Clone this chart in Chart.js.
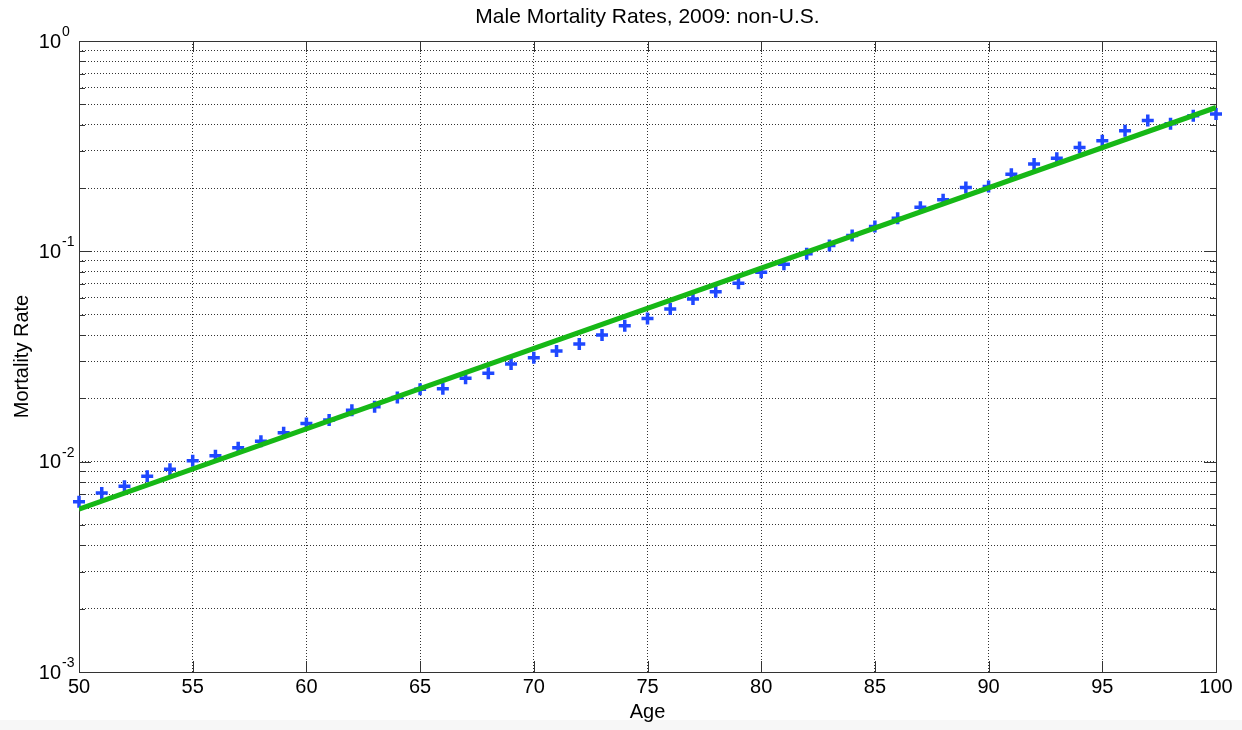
<!DOCTYPE html>
<html>
<head>
<meta charset="utf-8">
<title>Male Mortality Rates, 2009: non-U.S.</title>
<script src="https://cdn.jsdelivr.net/npm/chart.js@4"></script>
<style>
    html, body { margin: 0; padding: 0; background: #fff; }
    #wrap { width: 1242px; height: 730px; }
</style>
</head>
<body>
<div id="wrap"><canvas id="chart" width="1242" height="730"></canvas></div>
<script>
// ages (x) and observed mortality rates (blue crosses)
var ages = [50, 51, 52, 53, 54, 55, 56, 57, 58, 59,
            60, 61, 62, 63, 64, 65, 66, 67, 68, 69,
            70, 71, 72, 73, 74, 75, 76, 77, 78, 79,
            80, 81, 82, 83, 84, 85, 86, 87, 88, 89,
            90, 91, 92, 93, 94, 95, 96, 97, 98, 99, 100];
var rates = [0.00644, 0.00710, 0.00765, 0.00853, 0.00921, 0.01009, 0.01066, 0.01163, 0.01252, 0.01371,
             0.01519, 0.01576, 0.01758, 0.01823, 0.02021, 0.02209, 0.02221, 0.02489, 0.02629, 0.02911,
             0.03120, 0.03357, 0.03625, 0.0400, 0.0443, 0.0480, 0.0532, 0.0593, 0.0643, 0.0705,
             0.0795, 0.0868, 0.0974, 0.1065, 0.1188, 0.1311, 0.1437, 0.1622, 0.1757, 0.2010,
             0.2032, 0.2328, 0.2598, 0.2774, 0.3115, 0.3353, 0.3741, 0.4188, 0.4040, 0.4410, 0.4494];

// fitted line (green), end points
var fitAges = [50, 100];
var fitRates = [0.00594, 0.483];

// axis ticks
var xTicks = [50, 55, 60, 65, 70, 75, 80, 85, 90, 95, 100];
var yDecades = [0.001, 0.01, 0.1, 1];
var yExponents = ['-3', '-2', '-1', '0'];

var FONT = '"Liberation Sans", Arial, Helvetica, sans-serif';

var points = [];
for (var i = 0; i < ages.length; i++) {
    points.push({ x: ages[i], y: rates[i] });
}
var fitPoints = [];
for (var i = 0; i < fitAges.length; i++) {
    fitPoints.push({ x: fitAges[i], y: fitRates[i] });
}

//сетка лог-шкалы: 1..9 в каждой декаде
function buildLogTicks(scale) {
    var t = [];
    for (var d = 0; d < yDecades.length; d++) {
        var dec = yDecades[d];
        if (d === yDecades.length - 1) {
            t.push({ value: dec, major: true });
            break;
        }
        for (var m = 1; m < 10; m++) {
            t.push({ value: +(dec * m).toPrecision(3), major: m === 1 });
        }
    }
    scale.ticks = t;
}

// frame, inward ticks, y labels with superscripts, light strip at the bottom
var matlabLook = {
    id: 'matlabLook',
    beforeDraw: function(chart) {
        var ctx = chart.ctx;
        ctx.save();
        ctx.fillStyle = '#ffffff';
        ctx.fillRect(0, 0, chart.width, chart.height);
        ctx.fillStyle = '#f7f7f7';
        ctx.fillRect(0, 720, chart.width, chart.height - 720);
        ctx.restore();
    },
    beforeDatasetsDraw: function(chart) {
        var ctx = chart.ctx;
        var a = chart.chartArea;
        var xs = chart.scales.x;
        var ys = chart.scales.y;
        ctx.save();
        ctx.strokeStyle = '#333';
        ctx.lineWidth = 1;
        ctx.strokeRect(Math.round(a.left) + 0.5, Math.round(a.top) + 0.5,
                       Math.round(a.right - a.left), Math.round(a.bottom - a.top));
        ctx.beginPath();
        for (var i = 0; i < xTicks.length; i++) {
            var px = Math.round(xs.getPixelForValue(xTicks[i])) + 0.5;
            ctx.moveTo(px, a.bottom);
            ctx.lineTo(px, a.bottom - 11);
            ctx.moveTo(px, a.top);
            ctx.lineTo(px, a.top + 11);
        }
        for (var j = 0; j < ys.ticks.length; j++) {
            var py = Math.round(ys.getPixelForValue(ys.ticks[j].value)) + 0.5;
            var len = ys.ticks[j].major ? 12 : 6;
            ctx.moveTo(a.left, py);
            ctx.lineTo(a.left + len, py);
            ctx.moveTo(a.right, py);
            ctx.lineTo(a.right - len, py);
        }
        ctx.stroke();

        ctx.fillStyle = '#000';
        for (var k = 0; k < yDecades.length; k++) {
            var y = ys.getPixelForValue(yDecades[k]);
            ctx.font = '20px ' + FONT;
            ctx.textAlign = 'right';
            ctx.textBaseline = 'middle';
            ctx.fillText('10', 61, y + 1);
            ctx.font = '14px ' + FONT;
            ctx.textAlign = 'left';
            ctx.fillText(yExponents[k], 62, y - 9);
        }
        ctx.restore();
    }
};

var ctx = document.getElementById('chart');
var myChart = new Chart(ctx, {
    type: 'scatter',
    data: {
        datasets: [
            {
                label: 'fit',
                data: fitPoints,
                showLine: true,
                borderColor: '#16b816',
                borderWidth: 5,
                pointRadius: 0,
                order: 0
            },
            {
                label: 'rates',
                data: points,
                pointStyle: 'cross',
                pointRadius: 6,
                pointBorderWidth: 3.5,
                borderColor: '#1f48ff',
                backgroundColor: '#1f48ff',
                clip: false,
                order: 1
            }
        ]
    },
    options: {
        responsive: false,
        devicePixelRatio: 1,
        animation: false,
        events: [],
        layout: { padding: { left: 0, right: 26, top: 0, bottom: 0 } },
        plugins: {
            legend: { display: false },
            tooltip: { enabled: false },
            title: {
                display: true,
                fullSize: false, // центрируем над областью графика
                text: 'Male Mortality Rates, 2009: non-U.S.',
                color: '#000',
                font: { family: FONT, size: 21, weight: 'normal', lineHeight: 1.2 },
                padding: { top: 5, bottom: 10.8 }
            }
        },
        scales: {
            x: {
                type: 'linear',
                min: 50,
                max: 100,
                afterBuildTicks: function(scale) {
                    scale.ticks = xTicks.map(function(v) { return { value: v }; });
                },
                afterFit: function(scale) { scale.height = 58; },
                ticks: {
                    color: '#000',
                    font: { family: FONT, size: 20 },
                    padding: 3,
                    maxRotation: 0
                },
                grid: {
                    color: '#333',
                    lineWidth: 1,
                    drawTicks: false
                },
                border: { display: false, dash: [1, 2] },
                title: {
                    display: true,
                    text: 'Age',
                    color: '#000',
                    font: { family: FONT, size: 20, lineHeight: 1.2 },
                    padding: { top: 0, bottom: 6 }
                }
            },
            y: {
                type: 'logarithmic',
                min: 0.001,
                max: 1,
                afterBuildTicks: buildLogTicks,
                afterFit: function(scale) { scale.width = 79; },
                ticks: { display: false },
                grid: {
                    color: '#333',
                    lineWidth: 1,
                    drawTicks: false
                },
                border: { display: false, dash: [1, 2] },
                title: {
                    display: true,
                    text: 'Mortality Rate',
                    color: '#000',
                    font: { family: FONT, size: 20, lineHeight: 1.2 },
                    padding: { top: 10, bottom: 0 }
                }
            }
        }
    },
    plugins: [matlabLook]
});
</script>
</body>
</html>
